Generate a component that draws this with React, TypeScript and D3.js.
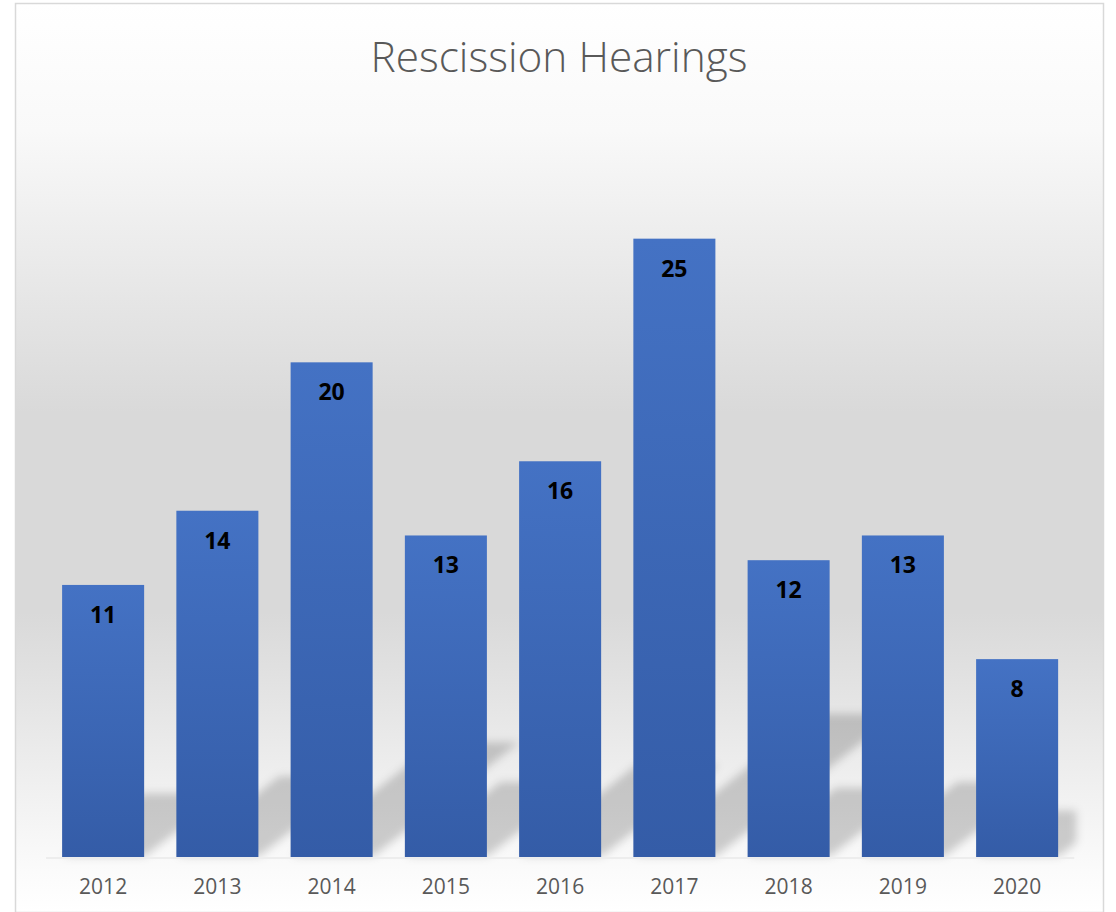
import React from "react";
import * as d3 from "d3";

const years = ["2012", "2013", "2014", "2015", "2016", "2017", "2018", "2019", "2020"];
const hearings = [11, 14, 20, 13, 16, 25, 12, 13, 8];
const chartTitle = "Rescission Hearings";

const W = 1116;
const H = 912;
const plot = { left: 46, right: 1074.25, top: 115, bottom: 857 };

export default function App() {
  const x = d3
    .scaleBand<string>()
    .domain(years)
    .range([plot.left, plot.right])
    .paddingInner(0.282)
    .paddingOuter(0.141);
  const y = d3.scaleLinear().domain([0, 30]).range([plot.bottom, plot.top]);
  const bw = x.bandwidth();

  const shadowPath = (yr: string, v: number) => {
    const xl = x(yr)!;
    const xr = xl + bw;
    const base = y(0);
    const h = 0.23 * (base - y(v));
    const s = 1.28 * h;
    const p = d3.path();
    p.moveTo(xl + 1, base - 1);
    p.lineTo(xr + 1, base - 1);
    p.lineTo(xr + s + 1, base - h - 1);
    p.lineTo(xl + s + 1, base - h - 1);
    p.closePath();
    return p.toString();
  };

  return (
    <svg
      width={W}
      height={H}
      style={{ position: "absolute", left: 0, top: 0, display: "block" }}
    >
      <defs>
        <linearGradient id="bg" x1="0" y1="0" x2="0" y2="1">
          <stop offset="0" stopColor="#ffffff" />
          <stop offset="0.14" stopColor="#f9f9f9" />
          <stop offset="0.45" stopColor="#d9d9d9" />
          <stop offset="0.67" stopColor="#d9d9d9" />
          <stop offset="0.955" stopColor="#fbfbfb" />
          <stop offset="1" stopColor="#ffffff" />
        </linearGradient>
        <linearGradient id="barGrad" x1="0" y1="0" x2="0" y2="1">
          <stop offset="0" stopColor="#4472c4" />
          <stop offset="1" stopColor="#345ca7" />
        </linearGradient>
        <filter id="blur" x="-20%" y="-20%" width="140%" height="140%">
          <feGaussianBlur stdDeviation="4" />
        </filter>
        <clipPath id="plotClip">
          <rect x={plot.left} y={0} width={plot.right - plot.left + 2} height={plot.bottom + 2} />
        </clipPath>
      </defs>

      <rect x={0} y={0} width={W} height={H} fill="#ffffff" />
      <rect
        x={15.5}
        y={3.5}
        width={1088}
        height={909}
        fill="url(#bg)"
        stroke="#d9d9d9"
        strokeWidth={1.5}
      />

      <text
        x={559}
        y={72}
        textAnchor="middle"
        fontFamily="'Open Sans', sans-serif"
        fontWeight={300}
        fontSize={43}
        fill="#595959"
        textLength={377}
        lengthAdjust="spacingAndGlyphs"
      >
        {chartTitle}
      </text>

      <g filter="url(#blur)">
        <g clipPath="url(#plotClip)">
          {years.map((yr, i) => (
            <path key={yr} d={shadowPath(yr, hearings[i])} fill="#000000" fillOpacity={0.18} />
          ))}
        </g>
      </g>

      <line
        x1={plot.left}
        x2={plot.right}
        y1={y(0) + 1}
        y2={y(0) + 1}
        stroke="#ededed"
        strokeWidth={2}
      />

      {years.map((yr, i) => (
        <rect
          key={yr}
          x={x(yr)!}
          y={y(hearings[i])}
          width={bw}
          height={y(0) - y(hearings[i])}
          fill="url(#barGrad)"
        />
      ))}

      {years.map((yr, i) => (
        <text
          key={yr}
          x={x(yr)! + bw / 2}
          y={y(hearings[i]) + 38}
          textAnchor="middle"
          fontFamily="'Open Sans', sans-serif"
          fontWeight={700}
          fontSize={23}
          fill="#000000"
        >
          {hearings[i]}
        </text>
      ))}

      {years.map((yr) => (
        <text
          key={yr}
          x={x(yr)! + bw / 2}
          y={894}
          textAnchor="middle"
          fontFamily="'Open Sans', sans-serif"
          fontSize={21}
          fill="#595959"
        >
          {yr}
        </text>
      ))}
    </svg>
  );
}
